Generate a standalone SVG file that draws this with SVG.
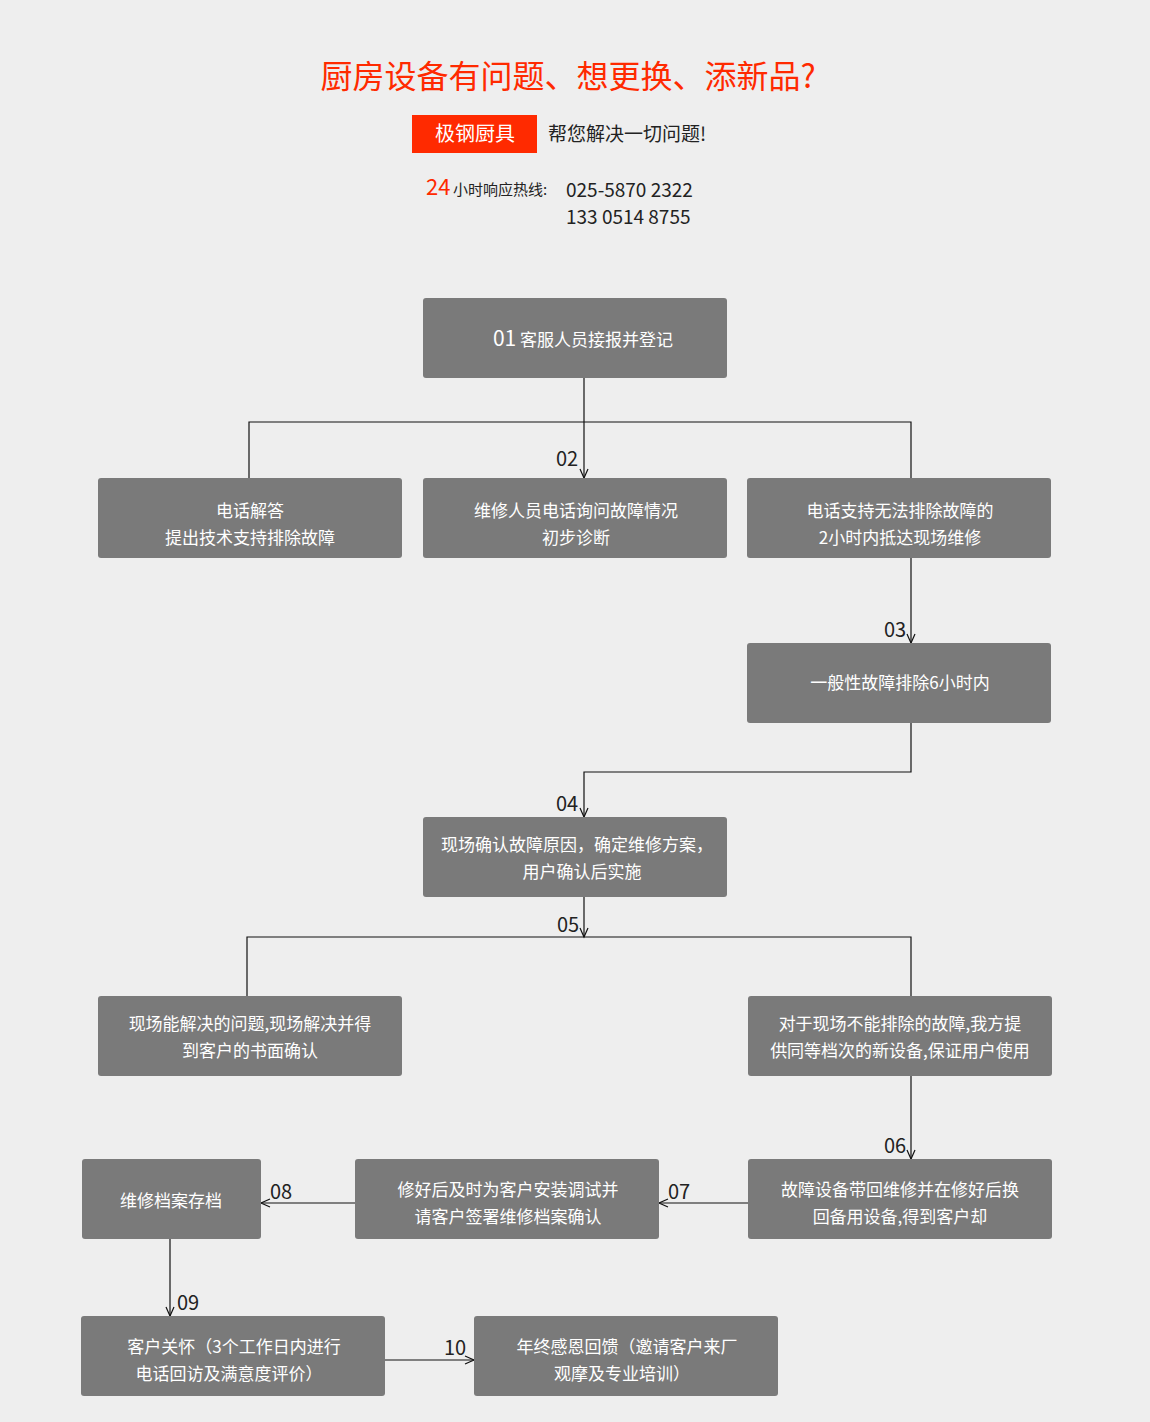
<svg xmlns="http://www.w3.org/2000/svg" width="1150" height="1422" viewBox="0 0 1150 1422">
<defs>
<style>
text{font-family:"Noto Sans CJK SC","Noto Sans",sans-serif}
.b{fill:#7a7a7a}
.t{fill:#fff;font-size:17px;text-anchor:middle}
.l{fill:#222;font-size:20px;text-anchor:middle}
.c{stroke:#111;stroke-width:1.2;fill:none}
</style>
<marker id="a" markerWidth="12" markerHeight="10" refX="10" refY="5" orient="auto" markerUnits="userSpaceOnUse">
<path d="M1,1 L10,5 L1,9" fill="none" stroke="#111" stroke-width="1.2"/>
</marker>
</defs>
<rect width="1150" height="1422" fill="#eeeeee"/>
<g id="header">
<text x="568" y="88" font-size="32" fill="#ff2a00" text-anchor="middle">厨房设备有问题、想更换、添新品?</text>
<rect x="412" y="115" width="125" height="38" fill="#ff2a00"/>
<text x="475" y="141" font-size="20" fill="#fff" text-anchor="middle">极钢厨具</text>
<text x="548" y="141" font-size="19" fill="#222">帮您解决一切问题!</text>
<text x="426" y="195" font-size="22" fill="#ff2a00">24</text>
<text x="453" y="195" font-size="15" fill="#222">小时响应热线:</text>
<text x="566" y="197" font-size="19" fill="#222">025-5870 2322</text>
<text x="566" y="224" font-size="19" fill="#222">133 0514 8755</text>
</g>
<g id="connectors">
<path class="c" d="M584,378 V478" marker-end="url(#a)"/>
<path class="c" d="M249,478 V422 H911 V478"/>
<path class="c" d="M911,558 V643" marker-end="url(#a)"/>
<path class="c" d="M911,723 V772 H584 V817" marker-end="url(#a)"/>
<path class="c" d="M584,897 V937" marker-end="url(#a)"/>
<path class="c" d="M247,996 V937 H911 V996"/>
<path class="c" d="M911,1076 V1159" marker-end="url(#a)"/>
<path class="c" d="M748,1203 H659" marker-end="url(#a)"/>
<path class="c" d="M355,1203 H261" marker-end="url(#a)"/>
<path class="c" d="M170,1239 V1316" marker-end="url(#a)"/>
<path class="c" d="M385,1360 H474" marker-end="url(#a)"/>
<text class="l" x="567" y="466">02</text>
<text class="l" x="895" y="637">03</text>
<text class="l" x="567" y="811">04</text>
<text class="l" x="568" y="932">05</text>
<text class="l" x="895" y="1153">06</text>
<text class="l" x="679" y="1199">07</text>
<text class="l" x="281" y="1199">08</text>
<text class="l" x="188" y="1310">09</text>
<text class="l" x="455" y="1355">10</text>
</g>
<g id="n01"><rect class="b" x="423" y="298" width="304" height="80" rx="3"/><text class="t" x="583" y="346"><tspan font-size="21">01</tspan> 客服人员接报并登记</text></g>
<g id="n02a"><rect class="b" x="98" y="478" width="304" height="80" rx="3"/><text class="t" x="250" y="517">电话解答</text><text class="t" x="250" y="544">提出技术支持排除故障</text></g>
<g id="n02b"><rect class="b" x="423" y="478" width="304" height="80" rx="3"/><text class="t" x="576" y="517">维修人员电话询问故障情况</text><text class="t" x="576" y="544">初步诊断</text></g>
<g id="n02c"><rect class="b" x="747" y="478" width="304" height="80" rx="3"/><text class="t" x="900" y="517">电话支持无法排除故障的</text><text class="t" x="900" y="544">2小时内抵达现场维修</text></g>
<g id="n03"><rect class="b" x="747" y="643" width="304" height="80" rx="3"/><text class="t" x="900" y="689">一般性故障排除6小时内</text></g>
<g id="n04"><rect class="b" x="423" y="817" width="304" height="80" rx="3"/><text class="t" x="577" y="851">现场确认故障原因，确定维修方案，</text><text class="t" x="582" y="878">用户确认后实施</text></g>
<g id="n05a"><rect class="b" x="98" y="996" width="304" height="80" rx="3"/><text class="t" x="250" y="1030">现场能解决的问题,现场解决并得</text><text class="t" x="250" y="1057">到客户的书面确认</text></g>
<g id="n05b"><rect class="b" x="748" y="996" width="304" height="80" rx="3"/><text class="t" x="900" y="1030">对于现场不能排除的故障,我方提</text><text class="t" x="900" y="1057">供同等档次的新设备,保证用户使用</text></g>
<g id="n06"><rect class="b" x="748" y="1159" width="304" height="80" rx="3"/><text class="t" x="900" y="1196">故障设备带回维修并在修好后换</text><text class="t" x="900" y="1223">回备用设备,得到客户却</text></g>
<g id="n07"><rect class="b" x="355" y="1159" width="304" height="80" rx="3"/><text class="t" x="508" y="1196">修好后及时为客户安装调试并</text><text class="t" x="508" y="1223">请客户签署维修档案确认</text></g>
<g id="n08"><rect class="b" x="82" y="1159" width="179" height="80" rx="3"/><text class="t" x="171" y="1207">维修档案存档</text></g>
<g id="n09"><rect class="b" x="81" y="1316" width="304" height="80" rx="3"/><text class="t" x="234" y="1353">客户关怀（3个工作日内进行</text><text class="t" x="229" y="1380">电话回访及满意度评价）</text></g>
<g id="n10"><rect class="b" x="474" y="1316" width="304" height="80" rx="3"/><text class="t" x="627" y="1353">年终感恩回馈（邀请客户来厂</text><text class="t" x="622" y="1380">观摩及专业培训）</text></g>
</svg>
